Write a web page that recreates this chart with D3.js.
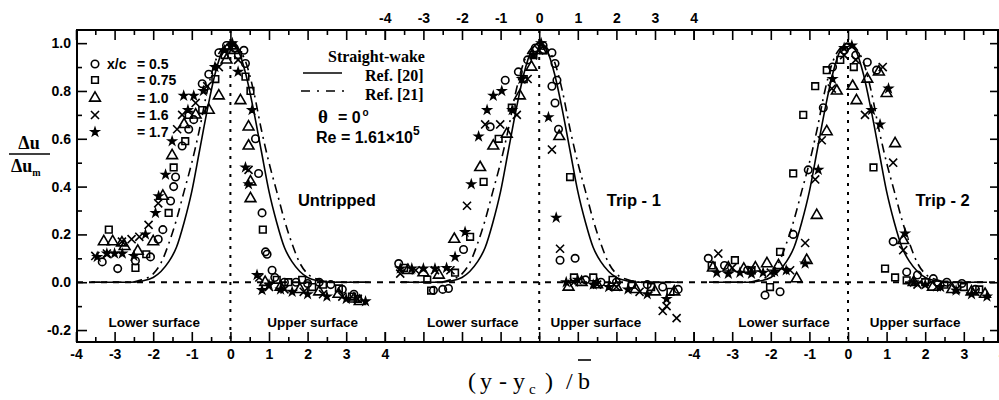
<!DOCTYPE html>
<html>
<head>
<meta charset="utf-8">
<script src="https://cdn.jsdelivr.net/npm/d3@7"></script>
<style>
  body { margin: 0; background: #fff; }
  svg { display: block; }
  .tick text { font-family: "Liberation Sans", Arial, sans-serif; font-weight: bold; font-size: 14px; fill: #000; }
  .tick line { stroke: #000; stroke-width: 1.6; }
</style>
</head>
<body>
<div id="chart"></div>
<script>
// Wake profiles, three panels (untripped / trip-1 / trip-2)
const width = 999, height = 400;

// reference straight-wake curves
const refEta = [-3.6, -3.0, -2.6, -2.3, -2.0, -1.8, -1.6, -1.4, -1.2, -1.0, -0.8, -0.6, -0.4, -0.2, 0,
                0.2, 0.4, 0.6, 0.8, 1.0, 1.2, 1.4, 1.6, 1.8, 2.0, 2.3, 2.6, 3.0, 3.6];
const ref20 = [0, 0, 0, 0.005, 0.02, 0.045, 0.085, 0.145, 0.25, 0.38, 0.55, 0.72, 0.87, 0.97, 1.0,
               0.97, 0.87, 0.72, 0.55, 0.38, 0.25, 0.145, 0.085, 0.045, 0.02, 0.005, 0, 0, 0];
const ref21 = [0, 0, 0, 0.01, 0.035, 0.08, 0.16, 0.26, 0.38, 0.50, 0.64, 0.80, 0.92, 0.98, 1.0,
               0.98, 0.92, 0.80, 0.64, 0.50, 0.38, 0.26, 0.16, 0.08, 0.035, 0.01, 0, 0, 0];

// legend entries
const seriesLabels = ["x/c", "= 0.5", "= 0.75", "= 1.0", "= 1.6", "= 1.7"];

// Untripped  [eta, du/dum]
const p1Circle = [[-3.32,0.085],[-2.92,0.057],[-2.46,0.09],[-2.07,0.106],[-1.87,0.18],[-1.75,0.22],[-1.55,0.34],[-1.47,0.40],[-1.42,0.44],[-1.25,0.57],[-1.08,0.64],[-0.95,0.68],[-0.73,0.83],[-0.56,0.87],[-0.3,0.96],[-0.1,0.99],[0.1,0.98],[0.35,0.97],[0.39,0.915],[0.65,0.60],[0.73,0.455],[0.82,0.29],[0.91,0.127],[0.95,0.117],[1.08,0.05],[1.15,0.02],[1.4,0.0],[1.7,0.0],[2.0,-0.005],[2.3,0.0],[2.6,-0.01],[2.9,-0.03],[3.2,-0.05]];
const p1Square = [[-3.15,0.22],[-2.46,0.06],[-2.18,0.117],[-1.6,0.29],[-1.47,0.48],[-1.17,0.59],[-1.08,0.70],[-0.73,0.72],[-0.39,0.85],[-0.15,0.95],[0.05,0.99],[0.2,0.95],[0.39,0.86],[0.52,0.80],[0.84,0.22],[1.2,0.01],[1.5,0.0],[1.86,0.01],[2.12,-0.02],[2.4,-0.01],[2.81,-0.026],[3.15,-0.06],[3.3,-0.07]];
const p1Triangle = [[-3.28,0.17],[-3.05,0.17],[-2.81,0.165],[-2.74,0.15],[-2.4,0.13],[-2.0,0.17],[-1.75,0.36],[-1.51,0.53],[-1.2,0.66],[-0.9,0.70],[-0.56,0.72],[-0.3,0.78],[-0.1,0.93],[0.1,0.97],[0.26,0.76],[0.47,0.65],[0.47,0.57],[0.52,0.42],[0.52,0.35],[0.9,0.0],[1.3,-0.02],[1.8,-0.03],[2.3,-0.04],[2.8,-0.05],[3.2,-0.07],[3.35,-0.08]];
const p1Cross = [[-3.5,0.11],[-3.2,0.12],[-2.81,0.17],[-2.56,0.18],[-2.36,0.19],[-2.12,0.24],[-1.87,0.33],[-1.38,0.64],[-1.25,0.70],[-0.9,0.75],[-0.6,0.82],[-0.3,0.9],[0.0,0.98],[0.2,0.93],[0.47,0.47],[0.75,0.02],[1.0,-0.02],[1.4,-0.03],[1.9,-0.04],[2.4,-0.05],[2.9,-0.06],[3.3,-0.07]];
const p1Star = [[-3.45,0.106],[-3.2,0.12],[-3.0,0.12],[-2.8,0.12],[-2.5,0.11],[-2.2,0.2],[-1.94,0.29],[-1.86,0.36],[-1.68,0.45],[-1.51,0.59],[-1.21,0.78],[-1.1,0.72],[-0.95,0.78],[-0.7,0.80],[-0.4,0.9],[-0.15,0.97],[0.05,1.0],[0.2,0.88],[0.39,0.48],[0.47,0.41],[0.56,0.72],[0.69,0.03],[0.82,-0.033],[1.0,-0.01],[1.3,-0.03],[1.6,-0.04],[2.0,-0.05],[2.5,-0.06],[3.0,-0.07],[3.5,-0.08]];

// Trip - 1
const p2Circle = [[-3.64,0.078],[-2.74,-0.034],[-2.5,-0.03],[-2.35,-0.026],[-1.96,0.137],[-1.27,0.65],[-0.88,0.845],[-0.54,0.88],[-0.3,0.93],[-0.1,0.98],[0.1,0.99],[0.33,0.96],[0.41,0.915],[0.46,0.845],[0.33,0.82],[0.41,0.75],[0.5,0.64],[0.54,0.092],[0.93,0.10],[1.2,0.01],[1.6,0.0],[2.0,0.0],[2.4,-0.01],[2.8,-0.01],[3.2,-0.02],[3.6,-0.03]];
const p2Square = [[-3.5,0.06],[-2.9,0.011],[-2.8,-0.035],[-2.18,0.04],[-1.79,0.19],[-1.44,0.42],[-1.05,0.60],[-0.71,0.73],[-0.4,0.85],[-0.15,0.95],[0.1,0.97],[0.8,0.44],[0.9,0.02],[1.4,0.02],[1.9,0.01],[2.4,-0.01],[2.9,-0.02],[3.4,-0.04]];
const p2Triangle = [[-3.4,0.05],[-3.0,0.04],[-2.6,0.03],[-2.2,0.18],[-1.53,0.48],[-1.19,0.57],[-0.84,0.62],[-0.5,0.78],[-0.2,0.9],[0.05,0.97],[0.52,0.61],[0.76,-0.02],[1.1,0.0],[1.5,-0.01],[2.0,-0.02],[2.5,-0.03],[3.0,-0.04],[3.5,-0.04]];
const p2Cross = [[-3.6,0.036],[-3.2,0.05],[-2.7,0.05],[-2.3,0.05],[-1.87,0.32],[-1.4,0.66],[-1.01,0.66],[-0.58,0.70],[-0.3,0.85],[0.0,0.97],[0.33,0.555],[0.54,0.14],[0.9,0.0],[1.5,-0.01],[2.0,-0.02],[2.6,-0.04],[3.2,-0.12],[3.3,-0.10],[3.56,-0.15]];
const p2Star = [[-3.6,0.057],[-3.3,0.057],[-3.0,0.057],[-2.7,0.057],[-2.4,0.06],[-2.18,0.106],[-1.92,0.21],[-1.76,0.41],[-1.57,0.61],[-1.35,0.72],[-1.19,0.78],[-0.97,0.80],[-0.7,0.72],[-0.45,0.85],[-0.15,0.95],[0.05,1.0],[0.24,0.69],[0.44,0.27],[0.7,0.0],[1.0,0.01],[1.4,-0.01],[1.8,-0.02],[2.3,-0.03],[2.8,-0.05],[3.3,-0.07]];

// Trip - 2
const p3Circle = [[-3.62,0.10],[-3.2,0.07],[-2.6,0.05],[-2.15,-0.054],[-1.76,-0.04],[-1.42,0.20],[-1.03,0.47],[-0.64,0.73],[-0.4,0.9],[-0.1,0.97],[0.2,0.95],[0.5,0.92],[0.74,0.887],[1.17,0.17],[1.52,0.043],[1.8,0.03],[2.21,0.015],[2.56,0.0],[2.95,-0.005],[3.3,-0.03]];
const p3Square = [[-3.53,0.07],[-2.93,0.092],[-2.5,0.05],[-2.02,-0.02],[-1.76,0.127],[-1.42,0.455],[-1.16,0.70],[-0.85,0.82],[-0.55,0.887],[-0.2,0.93],[0.15,0.9],[0.66,0.48],[0.96,0.057],[1.22,0.02],[1.52,0.008],[2.0,0.0],[2.5,-0.01],[3.0,-0.02],[3.4,-0.03]];
const p3Triangle = [[-3.5,0.06],[-3.1,0.06],[-2.7,0.055],[-2.4,0.06],[-2.1,0.078],[-1.8,0.07],[-1.33,0.015],[-1.07,0.092],[-0.81,0.28],[-0.55,0.63],[-0.29,0.80],[0.12,0.82],[0.22,0.76],[0.5,0.85],[0.8,0.88],[1.0,0.79],[1.22,0.58],[1.43,0.175],[1.7,0.0],[2.2,-0.02],[2.7,-0.03],[3.2,-0.04],[3.55,-0.05]];
const p3Cross = [[-3.36,0.12],[-3.0,0.06],[-2.5,0.05],[-2.0,0.04],[-1.5,0.05],[-1.11,0.164],[-0.85,0.43],[-0.68,0.594],[-0.42,0.81],[-0.1,0.95],[0.2,0.93],[0.44,0.70],[0.9,0.9],[1.17,0.50],[1.43,0.134],[1.8,-0.01],[2.3,-0.02],[2.8,-0.03],[3.3,-0.04]];
const p3Star = [[-3.4,0.04],[-3.1,0.035],[-2.8,0.04],[-2.5,0.035],[-2.2,0.04],[-1.9,0.045],[-1.6,0.05],[-1.11,0.078],[-0.77,0.47],[-0.4,0.85],[-0.1,0.98],[0.1,0.99],[0.61,0.72],[0.83,0.66],[1.05,0.81],[1.48,0.204],[1.7,0.0],[2.0,-0.01],[2.4,-0.02],[2.8,-0.035],[3.2,-0.05],[3.6,-0.06]];

// per panel: title, centre offset, which edge carries the tick labels, surface label positions
const panels = [
    { title: "Untripped", off: 4,  labels: "bottom", lower: -1.97, upper: 2.13, series: [p1Circle, p1Square, p1Triangle, p1Cross, p1Star] },
    { title: "Trip - 1",  off: 12, labels: "top",    lower: -1.72, upper: 1.47, series: [p2Circle, p2Square, p2Triangle, p2Cross, p2Star] },
    { title: "Trip - 2",  off: 20, labels: "bottom", lower: -1.66, upper: 1.74, series: [p3Circle, p3Square, p3Triangle, p3Cross, p3Star] }
];

// marker styles for x/c = 0.5, 0.75, 1.0, 1.6, 1.7
const markers = [
    { type: d3.symbolCircle,   size: 44, fill: "none" },
    { type: d3.symbolSquare,   size: 44, fill: "none" },
    { type: d3.symbolTriangle, size: 50, fill: "none" },
    { type: d3.symbolX,        size: 44, fill: "none" },
    { type: d3.symbolStar,     size: 17, fill: "#000" }
];

const fLeft = 77, fRight = 998, fTop = 30, fBottom = 342;

const svg = d3.select("#chart").append("svg")
    .attr("width", width)
    .attr("height", height);

// global x: each panel spans 8 units of (y - yc)/b
const x = d3.scaleLinear().domain([0, 24]).range([76, 1002.4]);
const y = d3.scaleLinear().domain([-0.25, 1.055]).range([fBottom, fTop]);

const sans = '"Liberation Sans", Arial, sans-serif';
const serif = '"Liberation Serif", "Times New Roman", serif';

// zero line + centre lines
svg.append("line")
    .attr("x1", fLeft).attr("x2", fRight)
    .attr("y1", y(0)).attr("y2", y(0))
    .attr("stroke", "#000").attr("stroke-width", 1.8)
    .attr("stroke-dasharray", "6,6");

panels.forEach(p => {
    svg.append("line")
        .attr("x1", x(p.off)).attr("x2", x(p.off))
        .attr("y1", fTop).attr("y2", fBottom)
        .attr("stroke", "#000").attr("stroke-width", 2)
        .attr("stroke-dasharray", "3,6");
});

// axes
panels.forEach(p => {
    const ps = d3.scaleLinear().domain([-4, 4]).range([x(p.off - 4), x(p.off + 4)]);
    const major = d3.range(-4, 5);
    const minor = d3.range(-3.5, 4, 1);

    const bot = svg.append("g").attr("transform", `translate(0,${fBottom})`);
    bot.call(d3.axisBottom(ps).tickValues(major).tickSize(-10).tickPadding(7)
        .tickFormat(d => p.labels === "bottom" ? String(d) : ""));
    bot.append("g").call(d3.axisBottom(ps).tickValues(minor).tickSize(-5).tickFormat(""));

    const tp = svg.append("g").attr("transform", `translate(0,${fTop})`);
    tp.call(d3.axisTop(ps).tickValues(major).tickSize(-10).tickPadding(7)
        .tickFormat(d => p.labels === "top" ? String(d) : ""));
    tp.append("g").call(d3.axisTop(ps).tickValues(minor).tickSize(-5).tickFormat(""));
});

const yMajor = [-0.2, 0, 0.2, 0.4, 0.6, 0.8, 1.0];
const yMinor = [-0.1, 0.1, 0.3, 0.5, 0.7, 0.9];
const yl = svg.append("g").attr("transform", `translate(${fLeft},0)`);
yl.call(d3.axisLeft(y).tickValues(yMajor).tickSize(-10).tickPadding(6).tickFormat(d => d.toFixed(1)));
yl.append("g").call(d3.axisLeft(y).tickValues(yMinor).tickSize(-5).tickFormat(""));
const yr = svg.append("g").attr("transform", `translate(${fRight},0)`);
yr.call(d3.axisRight(y).tickValues(yMajor).tickSize(-8).tickFormat(""));
yr.append("g").call(d3.axisRight(y).tickValues(yMinor).tickSize(-4).tickFormat(""));
svg.selectAll(".domain").remove();

svg.append("rect")
    .attr("x", fLeft).attr("y", fTop)
    .attr("width", fRight - fLeft).attr("height", fBottom - fTop)
    .attr("fill", "none").attr("stroke", "#000").attr("stroke-width", 2);

// reference curves
panels.forEach(p => {
    const line = d3.line()
        .x((d, i) => x(p.off + refEta[i]))
        .y(d => y(d))
        .curve(d3.curveMonotoneX);
    svg.append("path").attr("d", line(ref20))
        .attr("fill", "none").attr("stroke", "#000").attr("stroke-width", 1.6);
    svg.append("path").attr("d", line(ref21))
        .attr("fill", "none").attr("stroke", "#000").attr("stroke-width", 1.6)
        .attr("stroke-dasharray", "9,5,2,5");
});

// data points
panels.forEach(p => {
    p.series.forEach((pts, k) => {
        const m = markers[k];
        svg.append("g").selectAll("path")
            .data(pts)
            .join("path")
            .attr("d", d3.symbol(m.type, m.size))
            .attr("transform", d => `translate(${x(p.off + d[0])},${y(d[1])})`)
            .attr("fill", m.fill)
            .attr("stroke", "#000")
            .attr("stroke-width", 1.6);
    });

    svg.append("text")
        .attr("x", x(p.off + 1.75)).attr("y", 206)
        .attr("font-family", sans).attr("font-weight", "bold").attr("font-size", 16.5)
        .text(p.title);

    svg.append("text")
        .attr("x", x(p.off + p.lower)).attr("y", 327)
        .attr("text-anchor", "middle")
        .attr("font-family", sans).attr("font-weight", "bold").attr("font-size", 13.5)
        .text("Lower surface");
    svg.append("text")
        .attr("x", x(p.off + p.upper)).attr("y", 327)
        .attr("text-anchor", "middle")
        .attr("font-family", sans).attr("font-weight", "bold").attr("font-size", 13.5)
        .text("Upper surface");
});

// legend for x/c
const legY = [64, 80, 98, 115, 132];
markers.forEach((m, k) => {
    svg.append("path")
        .attr("d", d3.symbol(m.type, m.size))
        .attr("transform", `translate(95,${legY[k]})`)
        .attr("fill", m.fill).attr("stroke", "#000").attr("stroke-width", 1.6);
    svg.append("text")
        .attr("x", 137).attr("y", legY[k] + 5)
        .attr("font-family", sans).attr("font-weight", "bold").attr("font-size", 14)
        .text(seriesLabels[k + 1]);
});
svg.append("text")
    .attr("x", 107).attr("y", legY[0] + 5)
    .attr("font-family", sans).attr("font-weight", "bold").attr("font-size", 14)
    .text(seriesLabels[0]);

// reference legend
svg.append("text").attr("x", 328).attr("y", 62)
    .attr("font-family", serif).attr("font-weight", "bold").attr("font-size", 16)
    .text("Straight-wake");
svg.append("line").attr("x1", 303).attr("x2", 342).attr("y1", 73).attr("y2", 73)
    .attr("stroke", "#000").attr("stroke-width", 1.6);
svg.append("text").attr("x", 365).attr("y", 81)
    .attr("font-family", serif).attr("font-weight", "bold").attr("font-size", 16)
    .text("Ref. [20]");
svg.append("line").attr("x1", 301).attr("x2", 344).attr("y1", 91).attr("y2", 91)
    .attr("stroke", "#000").attr("stroke-width", 1.6).attr("stroke-dasharray", "9,7,2,7");
svg.append("text").attr("x", 365).attr("y", 100)
    .attr("font-family", serif).attr("font-weight", "bold").attr("font-size", 16)
    .text("Ref. [21]");

const theta = svg.append("text").attr("x", 318).attr("y", 123)
    .attr("font-family", sans).attr("font-weight", "bold").attr("font-size", 16);
theta.append("tspan").attr("font-family", serif).attr("font-size", 19).text("θ");
theta.append("tspan").attr("dx", 10).text("=  0");
theta.append("tspan").attr("dx", 2).attr("dy", -7).attr("font-size", 10).text("o");

const re = svg.append("text").attr("x", 316).attr("y", 143)
    .attr("font-family", sans).attr("font-weight", "bold").attr("font-size", 16);
re.append("tspan").text("Re = 1.61×10");
re.append("tspan").attr("dy", -8).attr("font-size", 12).text("5");

// y label
const ylab = svg.append("g").attr("font-family", serif).attr("font-weight", "bold").attr("font-size", 18);
ylab.append("text").attr("x", 29).attr("y", 149).attr("text-anchor", "middle").text("Δu");
ylab.append("line").attr("x1", 9).attr("x2", 50).attr("y1", 154).attr("y2", 154)
    .attr("stroke", "#000").attr("stroke-width", 1.5);
const ym = ylab.append("text").attr("x", 11).attr("y", 172);
ym.append("tspan").text("Δu");
ym.append("tspan").attr("dy", 4).attr("font-size", 10).text("m");

// x label, spaced like the original
const xl = svg.append("text").attr("y", 389)
    .attr("font-family", serif).attr("font-size", 24);
xl.append("tspan").attr("x", 468).text("(");
xl.append("tspan").attr("x", 480).text("y");
xl.append("tspan").attr("x", 499).text("-");
xl.append("tspan").attr("x", 513).text("y");
xl.append("tspan").attr("x", 529).attr("dy", 5).attr("font-size", 15).text("c");
xl.append("tspan").attr("x", 545).attr("dy", -5).text(")");
xl.append("tspan").attr("x", 566).text("/");
xl.append("tspan").attr("x", 578).text("b");
svg.append("line").attr("x1", 578).attr("x2", 591).attr("y1", 360).attr("y2", 360)
    .attr("stroke", "#000").attr("stroke-width", 1.6);
</script>
</body>
</html>
